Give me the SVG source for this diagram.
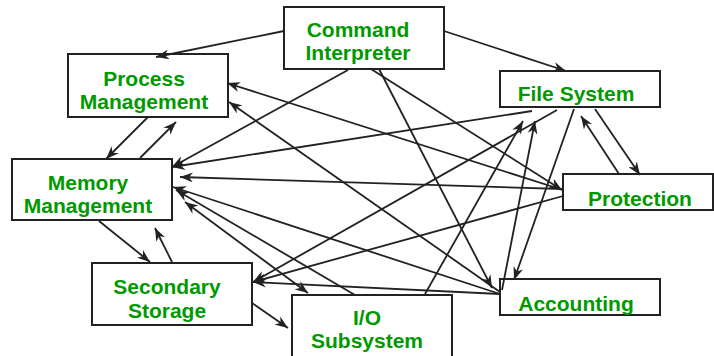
<svg xmlns="http://www.w3.org/2000/svg" width="714" height="356" viewBox="0 0 714 356">
<style>
.box{fill:#fff;stroke:#222;stroke-width:2}
.lbl{font-family:"Liberation Sans",Arial,sans-serif;font-weight:bold;font-size:21px;fill:#009900;text-anchor:middle}
.c line{stroke:#222;stroke-width:1.8;marker-end:url(#ah)}
</style>
<defs>
<marker id="ah" markerUnits="userSpaceOnUse" markerWidth="14" markerHeight="10" refX="13" refY="5" orient="auto-start-reverse">
<path d="M0,0 L13,5 L0,10 L4,5 z" fill="#222"/>
</marker>
</defs>
<rect width="714" height="356" fill="#fff"/>
<g id="ci"><rect class="box" x="284" y="7" width="160" height="62"/><text class="lbl" x="358" y="37">Command</text><text class="lbl" x="358" y="60">Interpreter</text></g>
<g id="pm"><rect class="box" x="68" y="54" width="160" height="63"/><text class="lbl" x="144" y="86">Process</text><text class="lbl" x="144" y="109">Management</text></g>
<g id="mm"><rect class="box" x="12" y="159" width="160" height="61"/><text class="lbl" x="88" y="190">Memory</text><text class="lbl" x="88" y="213">Management</text></g>
<g id="ss"><rect class="box" x="92" y="263" width="160" height="62"/><text class="lbl" x="167" y="294">Secondary</text><text class="lbl" x="167" y="318">Storage</text></g>
<g id="io"><rect class="box" x="292" y="295" width="160" height="70"/><text class="lbl" x="367" y="325">I/O</text><text class="lbl" x="367" y="348">Subsystem</text></g>
<g id="fs"><rect class="box" x="500" y="71" width="160" height="36"/><text class="lbl" x="576" y="101">File System</text></g>
<g id="pr"><rect class="box" x="563" y="174" width="150" height="36"/><text class="lbl" x="640" y="206">Protection</text></g>
<g id="ac"><rect class="box" x="500" y="279" width="160" height="36"/><text class="lbl" x="576" y="311">Accounting</text></g>
<g id="connectors" class="c">
<line x1="284" y1="31" x2="156" y2="57"/>
<line x1="444" y1="31" x2="566" y2="71"/>
<line x1="148" y1="117" x2="106" y2="159"/>
<line x1="140" y1="158" x2="176" y2="122"/>
<line x1="563" y1="190" x2="227" y2="83"/>
<line x1="500" y1="292" x2="229" y2="102"/>
<line x1="348" y1="70" x2="172" y2="167"/>
<line x1="532" y1="111" x2="172" y2="167"/>
<line x1="563" y1="189" x2="180" y2="177"/>
<line x1="500" y1="294" x2="173" y2="187"/>
<line x1="355" y1="295" x2="176" y2="190"/>
<line x1="185" y1="202" x2="308" y2="293" marker-start="url(#ah)"/>
<line x1="99" y1="221" x2="150" y2="262"/>
<line x1="172" y1="262" x2="155" y2="228"/>
<line x1="252" y1="303" x2="288" y2="328"/>
<line x1="557" y1="110" x2="253" y2="282"/>
<line x1="563" y1="196" x2="253" y2="282"/>
<line x1="500" y1="294" x2="253" y2="282"/>
<line x1="371" y1="69" x2="562" y2="190"/>
<line x1="379" y1="69" x2="492" y2="288"/>
<line x1="425" y1="294" x2="523" y2="121"/>
<line x1="502" y1="290" x2="535" y2="121"/>
<line x1="574" y1="109" x2="514" y2="280"/>
<line x1="595" y1="109" x2="640" y2="175"/>
<line x1="619" y1="174" x2="581" y2="116"/>
</g>
</svg>
